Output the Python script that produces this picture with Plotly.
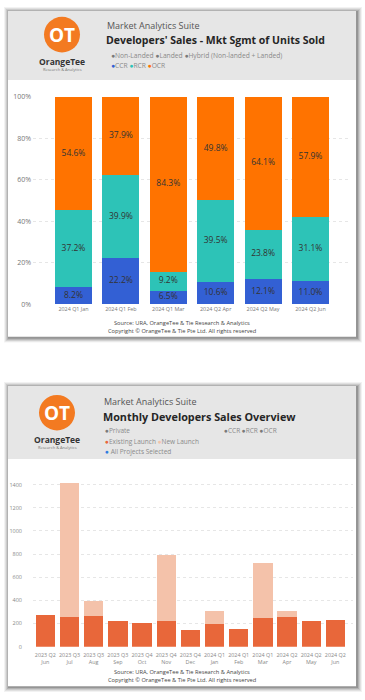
import plotly.graph_objects as go

# ---------------- data ----------------
months_top = ["2024 Q1 Jan", "2024 Q1 Feb", "2024 Q1 Mar", "2024 Q2 Apr", "2024 Q2 May", "2024 Q2 Jun"]
ccr_pct = [8.2, 22.2, 6.5, 10.6, 12.1, 11.0]
rcr_pct = [37.2, 39.9, 9.2, 39.5, 23.8, 31.1]
ocr_pct = [54.6, 37.9, 84.3, 49.8, 64.1, 57.9]
pct_ticks = [0, 20, 40, 60, 80, 100]

months_bottom = ["2023 Q2<br>Jun", "2023 Q3<br>Jul", "2023 Q3<br>Aug", "2023 Q3<br>Sep",
                 "2023 Q4<br>Oct", "2023 Q4<br>Nov", "2023 Q4<br>Dec", "2024 Q1<br>Jan",
                 "2024 Q1<br>Feb", "2024 Q1<br>Mar", "2024 Q2<br>Apr", "2024 Q2<br>May",
                 "2024 Q2<br>Jun"]
existing_launch = [276, 256, 263, 219, 207, 219, 142, 196, 156, 247, 256, 222, 231]
new_launch = [0, 1157, 135, 0, 0, 569, 0, 111, 0, 473, 50, 0, 0]
unit_ticks = [0, 200, 400, 600, 800, 1000, 1200, 1400]

W, H = 365, 700
FONT = "Open Sans"
C_CCR, C_RCR, C_OCR = "#3360D4", "#2DC3B7", "#FF7300"
C_EXIST, C_NEW = "#E8673A", "#F4C2AA"

def px(x):
    return x / W

def py(y):
    return 1 - y / H

fig = go.Figure()

# ---------------- top chart ----------------
base = [0.0] * len(months_top)
for name, vals, col in [("CCR", ccr_pct, C_CCR), ("RCR", rcr_pct, C_RCR), ("OCR", ocr_pct, C_OCR)]:
    fig.add_trace(go.Bar(
        x=months_top, y=vals, name=name, marker=dict(color=col, line=dict(width=0)),
        width=0.78, textposition="none",
        xaxis="x", yaxis="y", showlegend=False, hoverinfo="skip"))
    mids = [b + v / 2 for b, v in zip(base, vals)]
    fig.add_trace(go.Scatter(
        x=months_top, y=mids, mode="text", text=[f"{v:.1f}%" for v in vals],
        textposition="middle center", cliponaxis=False,
        textfont=dict(family=FONT, size=8.5, color="#333333"),
        xaxis="x", yaxis="y", showlegend=False, hoverinfo="skip"))
    base = [b + v for b, v in zip(base, vals)]

# ---------------- bottom chart ----------------
fig.add_trace(go.Bar(x=months_bottom, y=existing_launch, name="Existing Launch",
                     marker=dict(color=C_EXIST, line=dict(width=0)), width=0.8,
                     xaxis="x2", yaxis="y2", showlegend=False, hoverinfo="skip"))
fig.add_trace(go.Bar(x=months_bottom, y=new_launch, name="New Launch",
                     marker=dict(color=C_NEW, line=dict(width=0)), width=0.8,
                     xaxis="x2", yaxis="y2", showlegend=False, hoverinfo="skip"))

# ---------------- card shapes ----------------
shapes = []
def card(y0, y1, yh):
    for i, a in enumerate([0.05, 0.07, 0.09, 0.12, 0.16]):
        d = 5 - i
        shapes.append(dict(type="rect", xref="paper", yref="paper", layer="below",
                           x0=px(8 - d + 1), x1=px(356 + d + 1), y0=py(y1 + d + 1), y1=py(y0 - d + 1),
                           fillcolor=f"rgba(0,0,0,{a})", line=dict(width=0)))
    shapes.append(dict(type="rect", xref="paper", yref="paper", layer="below",
                       x0=px(8), x1=px(356), y0=py(y1), y1=py(y0),
                       fillcolor="white", line=dict(width=0)))
    shapes.append(dict(type="rect", xref="paper", yref="paper", layer="below",
                       x0=px(8), x1=px(356), y0=py(yh), y1=py(y0),
                       fillcolor="#E6E6E6", line=dict(width=0)))

card(6, 336, 76)
card(386, 690, 460)

def logo(cx, cy):
    r = 18
    shapes.append(dict(type="circle", xref="paper", yref="paper", layer="below",
                       x0=px(cx - r), x1=px(cx + r), y0=py(cy + r), y1=py(cy - r),
                       fillcolor="#F37A21", line=dict(width=0)))

logo(62, 30)
logo(57, 413)

ann = []
def text(x, y, s, size, color="#555555", anchor="left", bold=False):
    ann.append(dict(xref="paper", yref="paper", x=px(x), y=py(y), text=(f"<b>{s}</b>" if bold else s),
                    showarrow=False, xanchor=anchor, yanchor="middle",
                    font=dict(family=FONT, size=size, color=color)))

def logo_text(cx, cy):
    text(cx, cy, "OT", 19, "white", "center", True)
    text(cx, cy + 27, "OrangeTee", 8.5, "#333333", "center", True)
    text(cx, cy + 35, "Research &amp; Analytics", 4, "#777777", "center")

logo_text(62, 30)
logo_text(57, 413)

dot = lambda c: f"<span style='color:{c}'>●</span>"
G = "#7a7a7a"

# top header
text(105, 21, "Market Analytics Suite", 9, "#555555")
text(104, 35, "Developers' Sales - Mkt Sgmt of Units Sold", 10.5, "#252525", bold=True)
text(109, 51, f"{dot(G)}Non-Landed {dot(G)}Landed {dot(G)}Hybrid (Non-landed + Landed)", 6.7, "#8a8a8a")
text(109, 61, f"{dot(C_CCR)}CCR {dot(C_RCR)}RCR {dot(C_OCR)}OCR", 6.7, "#8a8a8a")
text(182, 322, "Source: URA, OrangeTee &amp; Tie Research &amp; Analytics", 5.7, "#444444", "center")
text(182, 330, "Copyright © OrangeTee &amp; Tie Pte Ltd. All rights reserved", 5.7, "#444444", "center")

# bottom header
text(102, 402, "Market Analytics Suite", 9, "#555555")
text(101, 417, "Monthly Developers Sales Overview", 10.8, "#252525", bold=True)
text(103, 431, f"{dot(G)}Private", 6.5, "#8a8a8a")
text(222, 431, f"{dot(G)}CCR {dot(G)}RCR {dot(G)}OCR", 6.5, "#8a8a8a")
text(103, 442, f"{dot(C_EXIST)}Existing Launch {dot(C_NEW)}New Launch", 6.5, "#8a8a8a")
text(103, 452, f"{dot('#2F7DE1')} All Projects Selected", 6.5, "#8a8a8a")
text(182, 676, "Source: URA, OrangeTee &amp; Tie Research &amp; Analytics", 5.7, "#444444", "center")
text(182, 684, "Copyright © OrangeTee &amp; Tie Pte Ltd. All rights reserved", 5.7, "#444444", "center")

fig.update_layout(
    width=W, height=H, margin=dict(l=0, r=0, t=0, b=0),
    paper_bgcolor="white", plot_bgcolor="rgba(0,0,0,0)",
    barmode="stack", bargap=0.2, showlegend=False,
    shapes=shapes, annotations=ann,
    font=dict(family=FONT),
    xaxis=dict(domain=[px(33), px(350)], range=[-0.854, 5.834], type="category",
               anchor="y", showgrid=False, zeroline=False, showline=False, ticks="",
               tickangle=0, tickfont=dict(size=5.4, color="#777777"), fixedrange=True),
    yaxis=dict(domain=[py(303), py(93)], range=[0, 100], anchor="x",
               tickvals=pct_ticks, ticktext=[f"{v}%" for v in pct_ticks],
               showgrid=True, gridcolor="#E6E6E6", griddash="dot",
               gridwidth=1, zeroline=False, showline=False, ticks="",
               tickfont=dict(size=7, color="#777777"), ticklabelstandoff=1, fixedrange=True),
    xaxis2=dict(domain=[px(33), px(353)], range=[-0.51, 12.73], type="category",
                anchor="y2", showgrid=False, zeroline=False, showline=False, ticks="",
                tickangle=0, ticklabelstandoff=4,
                tickfont=dict(size=5.4, color="#888888"), fixedrange=True),
    yaxis2=dict(domain=[py(650), py(470)], range=[0, 1536], anchor="x2",
                tickvals=unit_ticks, showgrid=True, gridcolor="#E6E6E6", griddash="dot",
                gridwidth=1, zeroline=False, showline=False, ticks="",
                tickfont=dict(size=5.5, color="#888888"), ticklabelstandoff=10, fixedrange=True),
)

fig.write_html("out.html", config={"displayModeBar": False},
               post_script="document.body.style.margin='0px';")
